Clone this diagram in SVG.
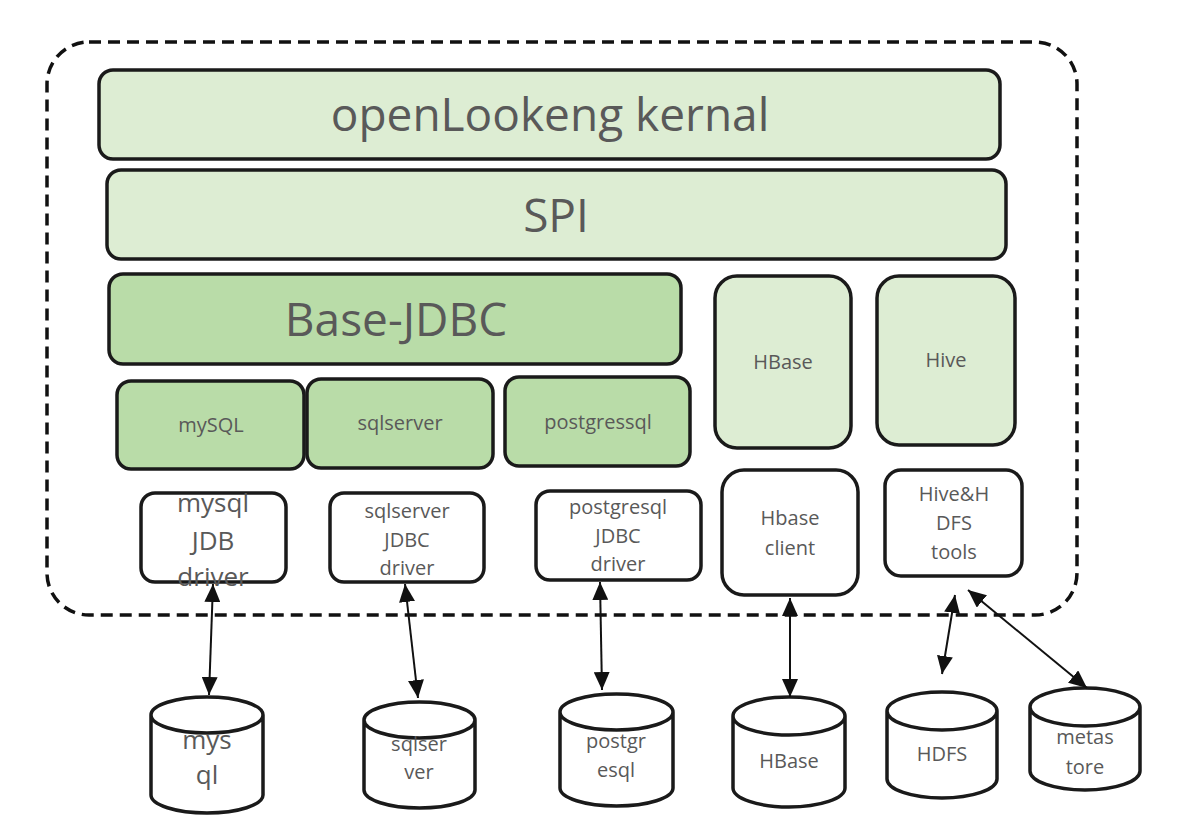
<svg xmlns="http://www.w3.org/2000/svg" width="1178" height="830" viewBox="0 0 1178 830">
<defs>
<marker id="ah" viewBox="0 0 18 16" refX="18" refY="8" markerWidth="18" markerHeight="16" markerUnits="userSpaceOnUse" orient="auto-start-reverse">
<path d="M0,0 L18,8 L0,16 Z" fill="#111"/>
</marker>
<style>
.lt{fill:#DDEDD3;stroke:#1a1a1a;stroke-width:3.5}
.dk{fill:#B9DCA8;stroke:#1a1a1a;stroke-width:3.5}
.wh{fill:#fff;stroke:#1a1a1a;stroke-width:3.5}
.cyl{fill:#fff;stroke:#1a1a1a;stroke-width:3.5}
text{font-family:"Open Sans","Noto Sans","DejaVu Sans",sans-serif;fill:#595959;text-anchor:middle}
.big{font-size:46px}
.sm{font-size:20px}
.md{font-size:26px}
.con line{stroke:#111;stroke-width:2;marker-start:url(#ah);marker-end:url(#ah)}
</style>
</defs>
<rect width="1178" height="830" fill="#fff"/>
<g id="boundary">
<rect x="47" y="42" width="1030" height="573" rx="42" fill="none" stroke="#111" stroke-width="3.5" stroke-dasharray="12 7"/>
</g>
<g id="kernel"><rect class="lt" x="99" y="70" width="901" height="89" rx="14"/><text class="big" x="550" y="131">openLookeng kernal</text></g>
<g id="spi"><rect class="lt" x="107" y="170" width="899" height="89" rx="14"/><text class="big" x="556" y="232">SPI</text></g>
<g id="basejdbc"><rect class="dk" x="109" y="274" width="572" height="90" rx="14"/><text class="big" x="396" y="336">Base-JDBC</text></g>
<g id="hbase-conn"><rect class="lt" x="715" y="276" width="136" height="172" rx="22"/><text class="sm" x="783" y="369">HBase</text></g>
<g id="hive-conn"><rect class="lt" x="877" y="276" width="138" height="169" rx="22"/><text class="sm" x="946" y="367">Hive</text></g>
<g id="mysql-conn"><rect class="dk" x="117" y="381" width="187" height="88" rx="14"/><text class="sm" x="211" y="432">mySQL</text></g>
<g id="sqlserver-conn"><rect class="dk" x="307" y="379" width="186" height="89" rx="14"/><text class="sm" x="400" y="430">sqlserver</text></g>
<g id="postgres-conn"><rect class="dk" x="505" y="377" width="185" height="89" rx="14"/><text class="sm" x="598" y="429">postgressql</text></g>
<g id="mysql-driver"><rect class="wh" x="141" y="493" width="145" height="89" rx="14"/>
<text class="md" x="213" y="512">mysql</text><text class="md" x="213" y="550">JDB</text><text class="md" x="213" y="586">driver</text></g>
<g id="sqlserver-driver"><rect class="wh" x="330" y="493" width="154" height="89" rx="14"/>
<text class="sm" x="407" y="518">sqlserver</text><text class="sm" x="407" y="547">JDBC</text><text class="sm" x="407" y="575">driver</text></g>
<g id="postgres-driver"><rect class="wh" x="536" y="491" width="165" height="89" rx="14"/>
<text class="sm" x="618" y="514">postgresql</text><text class="sm" x="618" y="543">JDBC</text><text class="sm" x="618" y="571">driver</text></g>
<g id="hbase-client"><rect class="wh" x="722" y="470" width="136" height="125" rx="22"/>
<text class="sm" x="790" y="525">Hbase</text><text class="sm" x="790" y="555">client</text></g>
<g id="hive-tools"><rect class="wh" x="885" y="470" width="137" height="106" rx="16"/>
<text class="sm" x="954" y="501">Hive&amp;H</text><text class="sm" x="954" y="530">DFS</text><text class="sm" x="954" y="559">tools</text></g>
<g id="db-mysql"><path class="cyl" d="M151,715 A56,18 0 0 1 263,715 V795 A56,18 0 0 1 151,795 Z M151,715 A56,18 0 0 0 263,715"/>
<text class="md" x="207" y="749">mys</text><text class="md" x="207" y="784">ql</text></g>
<g id="db-sqlserver"><path class="cyl" d="M364,720 A55.5,18 0 0 1 475,720 V790 A55.5,18 0 0 1 364,790 Z M364,720 A55.5,18 0 0 0 475,720"/>
<text class="sm" x="419" y="751">sqlser</text><text class="sm" x="419" y="779">ver</text></g>
<g id="db-postgres"><path class="cyl" d="M560,712 A56.5,18 0 0 1 673,712 V788 A56.5,18 0 0 1 560,788 Z M560,712 A56.5,18 0 0 0 673,712"/>
<text class="sm" x="616" y="748">postgr</text><text class="sm" x="616" y="777">esql</text></g>
<g id="db-hbase"><path class="cyl" d="M733,716 A56,19 0 0 1 845,716 V788 A56,19 0 0 1 733,788 Z M733,716 A56,19 0 0 0 845,716"/>
<text class="sm" x="789" y="768">HBase</text></g>
<g id="db-hdfs"><path class="cyl" d="M887,711 A55,19 0 0 1 997,711 V779 A55,19 0 0 1 887,779 Z M887,711 A55,19 0 0 0 997,711"/>
<text class="sm" x="942" y="761">HDFS</text></g>
<g id="db-metastore"><path class="cyl" d="M1030,707 A55,19 0 0 1 1140,707 V771 A55,19 0 0 1 1030,771 Z M1030,707 A55,19 0 0 0 1140,707"/>
<text class="sm" x="1085" y="744">metas</text><text class="sm" x="1085" y="774">tore</text></g>
<g id="connectors" class="con">
<line x1="213" y1="584" x2="209" y2="695"/>
<line x1="405" y1="584" x2="418" y2="698"/>
<line x1="600" y1="582" x2="602" y2="690"/>
<line x1="790" y1="598" x2="790" y2="697"/>
<line x1="955" y1="595" x2="942" y2="674"/>
<line x1="968" y1="590" x2="1087" y2="688"/>
</g>
</svg>
